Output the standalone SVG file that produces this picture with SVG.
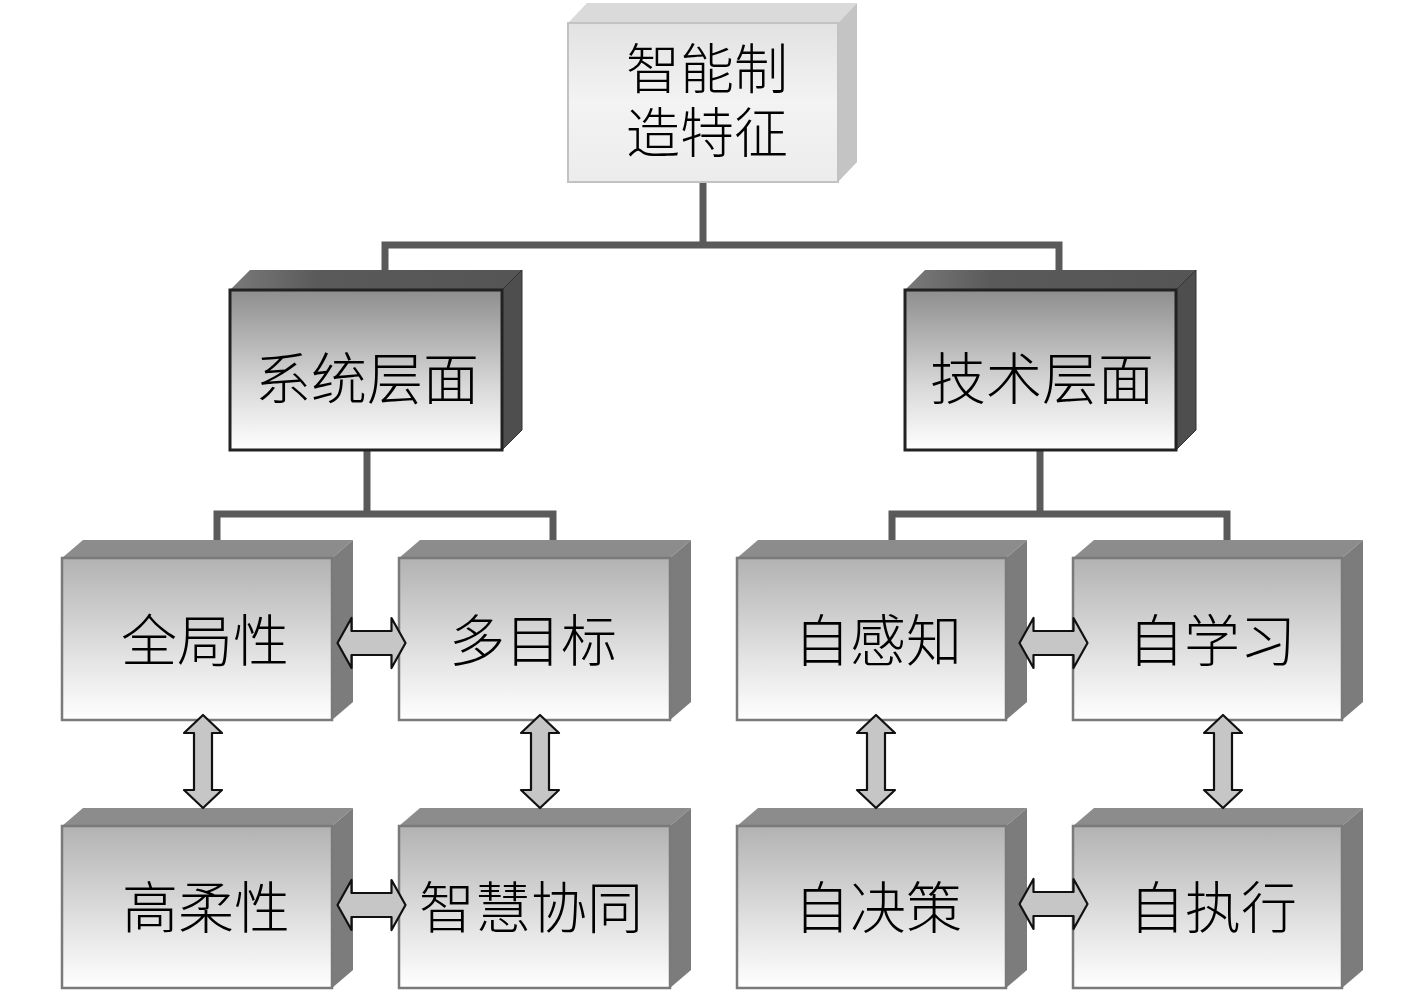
<svg xmlns="http://www.w3.org/2000/svg" width="1417" height="996" viewBox="0 0 1417 996">
<defs>
<linearGradient id="gTop" x1="0" y1="0" x2="0" y2="1"><stop offset="0" stop-color="#e2e2e2"/><stop offset="0.5" stop-color="#f3f3f3"/><stop offset="1" stop-color="#ececec"/></linearGradient>
<linearGradient id="gL2" x1="0" y1="0" x2="0" y2="1"><stop offset="0" stop-color="#8e8e8e"/><stop offset="0.6" stop-color="#d8d8d8"/><stop offset="1" stop-color="#ffffff"/></linearGradient>
<linearGradient id="gL3" x1="0" y1="0" x2="0" y2="1"><stop offset="0" stop-color="#b2b2b2"/><stop offset="0.6" stop-color="#e2e2e2"/><stop offset="1" stop-color="#ffffff"/></linearGradient>
<linearGradient id="gL2top" x1="0" y1="0" x2="1" y2="0"><stop offset="0" stop-color="#7a7a7a"/><stop offset="0.3" stop-color="#5a5a5a"/><stop offset="1" stop-color="#555"/></linearGradient>
<path id="ah" d="M-34,0 L-20,-25 L-20,-12 L20,-12 L20,-25 L34,0 L20,25 L20,12 L-20,12 L-20,25 Z"/>
<path id="av" d="M0,-46.5 L19,-28.5 L9,-28.5 L9,28.5 L19,28.5 L0,46.5 L-19,28.5 L-9,28.5 L-9,-28.5 L-19,-28.5 Z"/>
</defs>
<style>
.t{font-family:"Liberation Sans","Noto Sans CJK SC","Noto Sans CJK JP",sans-serif;font-size:56px;font-weight:300;fill:#000;text-anchor:middle}
.c{fill:none;stroke:#5a5a5a;stroke-width:7}
.ar{fill:#c6c6c6;stroke:#111;stroke-width:2.2;stroke-linejoin:round}
.t0top{fill:#dadada}.t0side{fill:#c4c4c4}.t0front{fill:url(#gTop);stroke:#c2c2c2;stroke-width:2}
.l2top{fill:url(#gL2top)}.l2side{fill:#4e4e4e;stroke:#333;stroke-width:1}.l2front{fill:url(#gL2);stroke:#222;stroke-width:3}
.l3top{fill:#8c8c8c}.l3side{fill:#7c7c7c}.l3front{fill:url(#gL3);stroke:#7a7a7a;stroke-width:2.5}
</style>
<rect width="1417" height="996" fill="#fff"/>
<g id="connectors">
<path class="c" d="M703,182 V245 M385,270 V245 H1059 V270"/>
<path class="c" d="M367,450 V514 M217,540 V514 H553 V540"/>
<path class="c" d="M1040,450 V514 M892,540 V514 H1227 V540"/>
</g>
<g id="n-top">
<polygon class="t0top" points="568,23 587,3 857,3 838,23"/>
<polygon class="t0side" points="838,23 857,3 857,162 838,182"/>
<rect class="t0front" x="568" y="23" width="270" height="159"/>
<text class="t" style="font-size:54px" x="707" y="89"><tspan x="707" y="89">智能制</tspan><tspan x="707" y="153">造特征</tspan></text>
</g>
<g id="n-sys">
<polygon class="l2top" points="230,290 250,270 522,270 502,290"/>
<polygon class="l2side" points="502,290 522,270 522,430 502,450"/>
<rect class="l2front" x="230" y="290" width="272" height="160"/>
<text class="t" x="367" y="399">系统层面</text>
</g>
<g id="n-tech">
<polygon class="l2top" points="905,290 925,270 1196,270 1176,290"/>
<polygon class="l2side" points="1176,290 1196,270 1196,430 1176,450"/>
<rect class="l2front" x="905" y="290" width="271" height="160"/>
<text class="t" x="1042" y="399">技术层面</text>
</g>
<g id="n-quanju">
<polygon class="l3top" points="62,558 83,540 353,540 332,558"/>
<polygon class="l3side" points="332,558 353,540 353,702 332,720"/>
<rect class="l3front" x="62" y="558" width="270" height="162"/>
<text class="t" x="205" y="661">全局性</text>
</g>
<g id="n-duomubiao">
<polygon class="l3top" points="399,558 420,540 691,540 670,558"/>
<polygon class="l3side" points="670,558 691,540 691,702 670,720"/>
<rect class="l3front" x="399" y="558" width="271" height="162"/>
<text class="t" x="533" y="661">多目标</text>
</g>
<g id="n-ganzhi">
<polygon class="l3top" points="737,558 758,540 1027,540 1006,558"/>
<polygon class="l3side" points="1006,558 1027,540 1027,702 1006,720"/>
<rect class="l3front" x="737" y="558" width="269" height="162"/>
<text class="t" x="878" y="661">自感知</text>
</g>
<g id="n-xuexi">
<polygon class="l3top" points="1073,558 1094,540 1363,540 1342,558"/>
<polygon class="l3side" points="1342,558 1363,540 1363,702 1342,720"/>
<rect class="l3front" x="1073" y="558" width="269" height="162"/>
<text class="t" x="1212" y="661">自学习</text>
</g>
<g id="n-gaorou">
<polygon class="l3top" points="62,826 83,808 353,808 332,826"/>
<polygon class="l3side" points="332,826 353,808 353,970 332,988"/>
<rect class="l3front" x="62" y="826" width="270" height="162"/>
<text class="t" x="206" y="928">高柔性</text>
</g>
<g id="n-zhihui">
<polygon class="l3top" points="399,826 420,808 691,808 670,826"/>
<polygon class="l3side" points="670,826 691,808 691,970 670,988"/>
<rect class="l3front" x="399" y="826" width="271" height="162"/>
<text class="t" x="531" y="928">智慧协同</text>
</g>
<g id="n-juece">
<polygon class="l3top" points="737,826 758,808 1027,808 1006,826"/>
<polygon class="l3side" points="1006,826 1027,808 1027,970 1006,988"/>
<rect class="l3front" x="737" y="826" width="269" height="162"/>
<text class="t" x="878" y="928">自决策</text>
</g>
<g id="n-zhixing">
<polygon class="l3top" points="1073,826 1094,808 1363,808 1342,826"/>
<polygon class="l3side" points="1342,826 1363,808 1363,970 1342,988"/>
<rect class="l3front" x="1073" y="826" width="269" height="162"/>
<text class="t" x="1213" y="928">自执行</text>
</g>
<g id="arrows">
<use href="#ah" class="ar" transform="translate(371.5,643)"/>
<use href="#ah" class="ar" transform="translate(371.5,905)"/>
<use href="#ah" class="ar" transform="translate(1053.5,643)"/>
<use href="#ah" class="ar" transform="translate(1053.5,904)"/>
<use href="#av" class="ar" transform="translate(203,761.5)"/>
<use href="#av" class="ar" transform="translate(540,761.5)"/>
<use href="#av" class="ar" transform="translate(876,761.5)"/>
<use href="#av" class="ar" transform="translate(1223,761.5)"/>
</g>
</svg>
